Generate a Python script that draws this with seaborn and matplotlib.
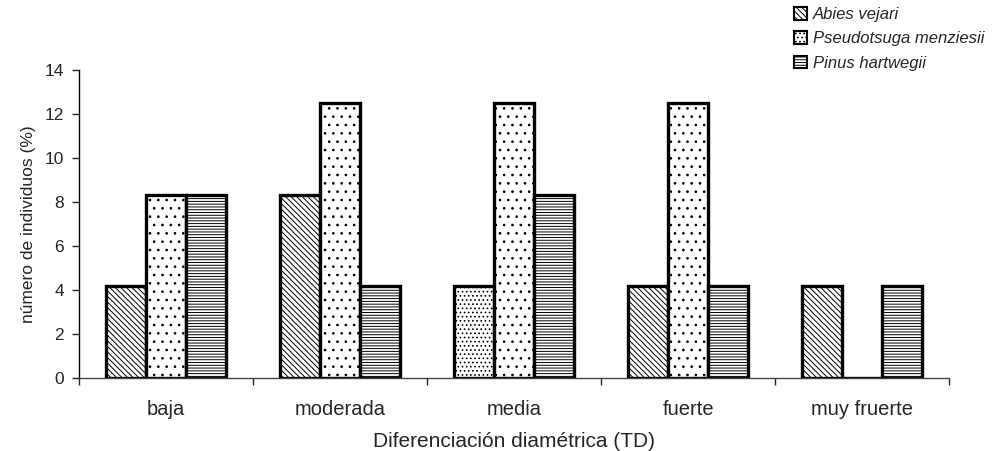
import matplotlib as mpl
mpl.use("Agg")
import matplotlib.pyplot as plt
import seaborn as sns
import pandas as pd
from matplotlib.patches import Patch

# datos
categorias = ["baja", "moderada", "media", "fuerte", "muy fruerte"]
especies = ["Abies vejari", "Pseudotsuga menziesii", "Pinus hartwegii"]
abies = [4.17, 8.33, 4.17, 4.17, 4.17]
pseudotsuga = [8.33, 12.5, 12.5, 12.5, 0.0]
pinus = [8.33, 4.17, 8.33, 4.17, 4.17]

df = pd.DataFrame({
    "cat": categorias * 3,
    "especie": [especies[0]] * 5 + [especies[1]] * 5 + [especies[2]] * 5,
    "valor": abies + pseudotsuga + pinus,
})

sns.set_style("white")
plt.rcParams["font.family"] = ["Liberation Sans", "DejaVu Sans"]
plt.rcParams["hatch.linewidth"] = 0.7

fig = plt.figure(figsize=(9.93, 4.51), dpi=100)
ax = fig.add_axes([0.0796, 0.162, 0.8765, 0.683])

sns.barplot(data=df, x="cat", y="valor", hue="especie", order=categorias,
            hue_order=especies, width=0.69, gap=0,
            palette=["white"] * 3, edgecolor="black", linewidth=2.4,
            legend=False, ax=ax, errorbar=None)

hatches = ["\\\\\\\\\\\\", "..", "------"]
for cont, h in zip(ax.containers, hatches):
    for bar in cont:
        bar.set_hatch(h)
# la barra de Abies en "media" sale punteada en el original
ax.containers[0][2].set_hatch("....")

ax.set_ylim(0, 14)
ax.set_yticks(range(0, 15, 2))
ax.set_xlim(-0.5, 4.5)
ax.set_xticks(range(5))
ax.set_xticks([i + 0.5 for i in range(-1, 5)], minor=True)
ax.tick_params(axis="x", which="major", length=0, labelsize=14.5, pad=16)
ax.tick_params(axis="x", which="minor", length=5, width=1, direction="out",
               bottom=True)
ax.tick_params(axis="y", length=5, width=1, direction="out", left=True,
               labelsize=12.5, pad=6)

for s in ["top", "right"]:
    ax.spines[s].set_visible(False)
ax.spines["left"].set_color("black")
ax.spines["left"].set_linewidth(1)
ax.spines["bottom"].set_color("#444444")
ax.spines["bottom"].set_linewidth(1)

ax.set_xlabel("Diferenciación diamétrica (TD)", fontsize=15, labelpad=9)
ax.set_ylabel("número de individuos (%)", fontsize=12.5, labelpad=6)

handles = [Patch(facecolor="white", edgecolor="black", hatch=h, linewidth=1.5)
           for h in ["\\\\\\\\\\\\", "....", "------"]]
fig.legend(handles, especies, loc="upper left", bbox_to_anchor=(0.784, 1.018),
           frameon=False, prop={"style": "italic", "size": 12},
           handlelength=0.8, handleheight=0.8, handletextpad=0.35,
           labelspacing=0.55)

fig.savefig("out.png", dpi=100)
